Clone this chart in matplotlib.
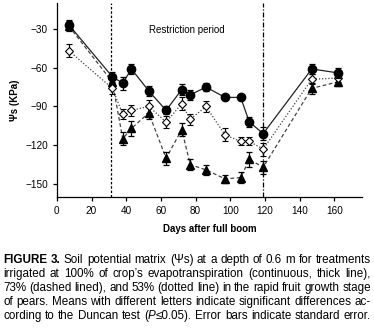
import matplotlib
matplotlib.use("Agg")
import matplotlib.pyplot as plt

# days after full bloom
days = [7, 32, 38, 43, 53, 63, 72, 77, 86, 97, 106, 111, 119, 147, 162]

# soil potential (kPa) per treatment
et100 = [-27, -67, -72, -61, -78, -93, -77, -81, -75, -83, -83, -102, -111, -61, -64]
et100_err = [4, 4, 5, 4, 4, 3, 4, 4, 3, 2, 2, 4, 5, 4, 4]
et73 = [-28, -71, -115, -107, -95, -130, -108, -135, -139, -146, -145, -131, -137, -76, -71]
et73_err = [4, 4, 5, 6, 5, 5, 5, 4, 4, 3, 4, 6, 5, 4, 3]
et53 = [-47, -76, -96, -93, -90, -102, -88, -100, -90, -112, -117, -117, -123, -69, -68]
et53_err = [5, 4, 4, 4, 5, 5, 5, 4, 4, 5, 3, 3, 5, 4, 3]

restriction = [31.5, 119]
ytick_vals = [-30, -60, -90, -120, -150]
xtick_vals = [0, 20, 40, 60, 80, 100, 120, 140, 160]

plt.rcParams['font.family'] = ['Liberation Sans', 'DejaVu Sans']

fig = plt.figure(figsize=(3.74, 3.35), dpi=100)
ax = fig.add_axes([0.152, 0.412, 0.816, 0.579])

ax.errorbar(days, et73, yerr=et73_err, fmt='^', color='black', ms=5.5,
            ecolor='black', elinewidth=0.9, capsize=2.5, capthick=0.9, zorder=3)
ax.plot(days, et73, ls=(0, (3, 2)), color='#444444', lw=0.9, zorder=2)
ax.errorbar(days, et53, yerr=et53_err, fmt='D', mfc='white', mec='black', mew=0.8,
            ms=4.5, ecolor='black', elinewidth=0.9, capsize=2.5, capthick=0.9, zorder=3)
ax.plot(days, et53, ls=(0, (1, 1.5)), color='#444444', lw=0.9, zorder=2)
ax.errorbar(days, et100, yerr=et100_err, fmt='o', color='black', ms=6,
            ecolor='black', elinewidth=0.9, capsize=2.5, capthick=0.9, zorder=4)
ax.plot(days, et100, ls='-', color='#222222', lw=0.9, zorder=2)

ax.axvline(restriction[0], color='black', lw=0.9, ls=(0, (2, 1.5)), zorder=1)
ax.axvline(restriction[1], color='black', lw=0.9, ls=(0, (4, 1.5, 1, 1.5)), zorder=1)
ax.text(75, -31, 'Restriction period', ha='center', va='center', fontsize=7)

ax.set_xlim(0, 176)
ax.set_ylim(-160, -10)
ax.set_xticks(xtick_vals)
ax.set_yticks(ytick_vals)
ax.tick_params(labelsize=7.2, length=3, width=0.9, direction='out')
for s in ['top', 'right']:
    ax.spines[s].set_visible(False)
for s in ['left', 'bottom']:
    ax.spines[s].set_linewidth(0.9)
ax.set_xlabel('Days after full boom', fontsize=7, fontweight='bold', labelpad=6)
ax.set_ylabel('Ψs (KPa)', fontsize=7, fontweight='bold', labelpad=4)

# caption, justified word by word
caption = [
    [('FIGURE', 'b', 1), ('3.', 'b', 1), ('Soil', 'n', 1), ('potential', 'n', 1), ('matrix', 'n', 1),
     ('(Ψs)', 'n', 1), ('at', 'n', 1), ('a', 'n', 1), ('depth', 'n', 1), ('of', 'n', 1), ('0.6', 'n', 1),
     ('m', 'n', 1), ('for', 'n', 1), ('treatments', 'n', 1)],
    [(w, 'n', 1) for w in "irrigated at 100% of crop’s evapotranspiration (continuous, thick line),".split()],
    [(w, 'n', 1) for w in "73% (dashed lined), and 53% (dotted line) in the rapid fruit growth stage".split()],
    [(w, 'n', 1) for w in "of pears. Means with different letters indicate significant differences ac-".split()],
    [(w, 'n', 1) for w in "cording to the Duncan test".split()] +
    [('(', 'n', 1), ('P', 'i', 0), ('≤0.05).', 'n', 0)] +
    [(w, 'n', 1) for w in "Error bars indicate standard error.".split()],
]

fig.canvas.draw()
renderer = fig.canvas.get_renderer()
x0, x1 = 3 / 374, 371 / 374
ys = [263, 277, 291, 305, 319]


def make_words(line, y, size):
    out = []
    for word, style, sp in line:
        t = fig.text(0, y, word, fontsize=size, va='baseline', ha='left',
                     fontweight='bold' if style == 'b' else 'normal',
                     fontstyle='italic' if style == 'i' else 'normal')
        out.append((t, sp))
    return out


# pick a size so that words with normal spaces fill the line width
base = 7.0
probe = fig.text(0, 0, 'a b', fontsize=base)
space = (probe.get_window_extent(renderer).width -
         fig.text(0, 0, 'ab', fontsize=base).get_window_extent(renderer).width) / fig.bbox.width
scales = []
for line in caption:
    ws = make_words(line, 0, base)
    total = sum(t.get_window_extent(renderer).width for t, _ in ws) / fig.bbox.width
    total += space * sum(sp for _, sp in ws[1:])
    scales.append((x1 - x0) / total)
    for t, _ in ws:
        t.remove()
for t in fig.texts[-2:]:
    t.remove()
size = base * min(sorted(scales)[len(scales) // 2], 1.2)

for line, ypx in zip(caption, ys):
    texts = make_words(line, 1 - ypx / 335, size)
    widths = [t.get_window_extent(renderer).width / fig.bbox.width for t, _ in texts]
    gap = (x1 - x0 - sum(widths)) / sum(sp for _, sp in texts[1:])
    x = x0
    for i, ((t, sp), w) in enumerate(zip(texts, widths)):
        if i > 0 and sp:
            x += gap
        t.set_x(x)
        x += w

fig.savefig('out.png', dpi=100)
